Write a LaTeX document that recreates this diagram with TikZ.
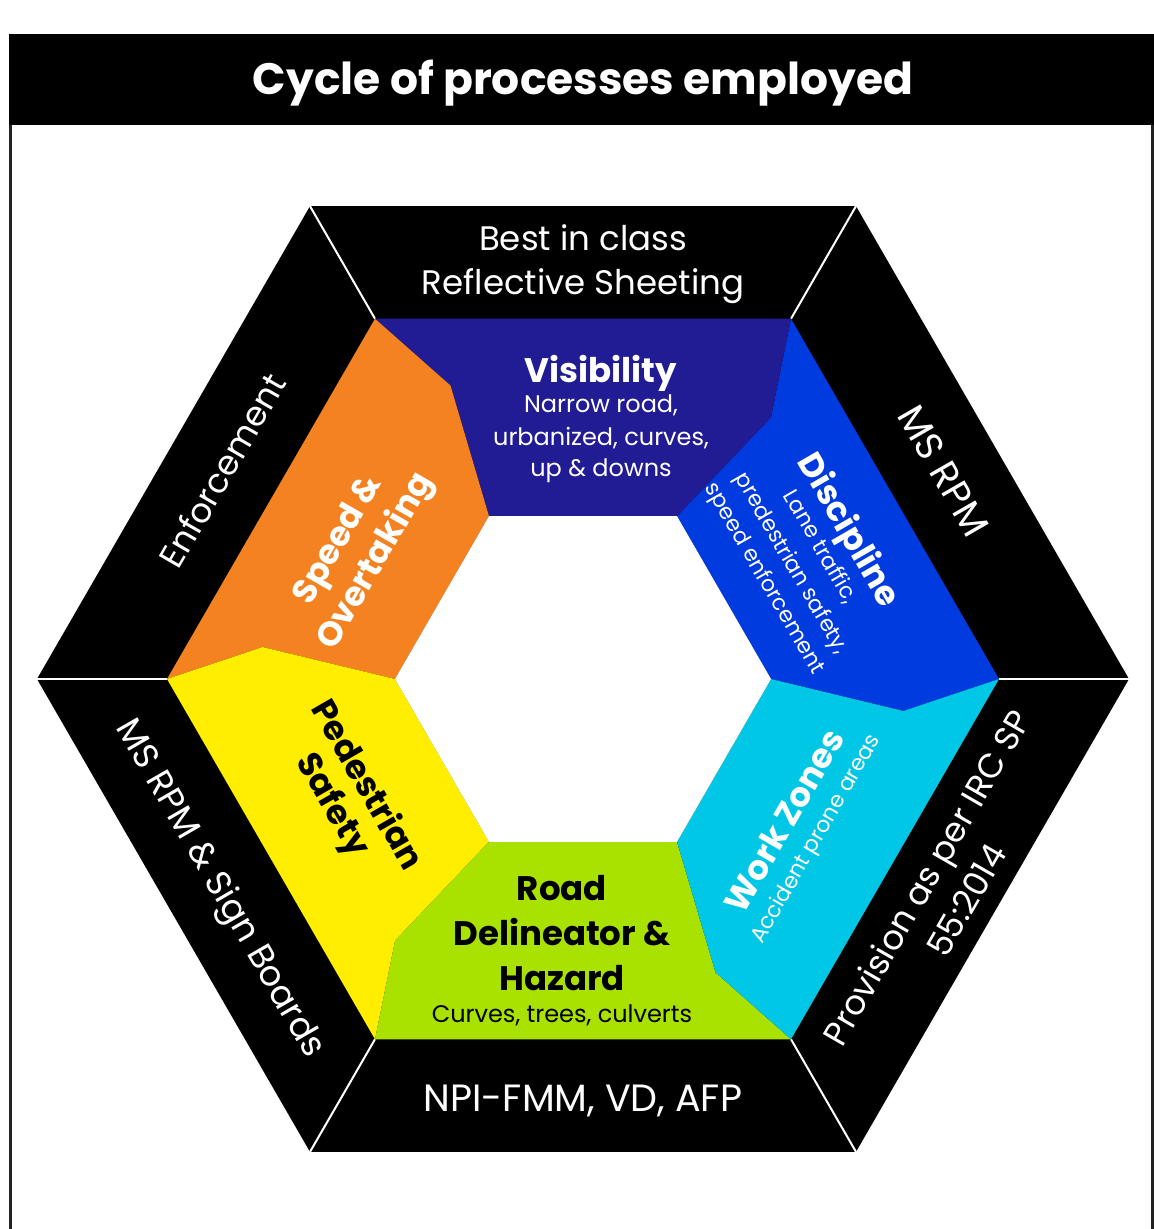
\documentclass[tikz,border=0pt]{standalone}
\usepackage{fontspec}
\setmainfont{Poppins}
\usepackage{tikz}

\definecolor{visblue}{HTML}{211C94}
\definecolor{discblue}{HTML}{003BE0}
\definecolor{zonecyan}{HTML}{00C7E5}
\definecolor{roadgreen}{HTML}{A9E100}
\definecolor{pedyellow}{HTML}{FFEE00}
\definecolor{speedorange}{HTML}{F58220}
\definecolor{framegray}{HTML}{222222}

\begin{document}
\begin{tikzpicture}[x=1pt,y=1pt,
  titlebar/.style={fill=black,minimum width=1145pt,minimum height=91pt,inner sep=0pt},
  titletxt/.style={text=white,anchor=base,inner sep=0pt,font=\bfseries\fontsize{44}{50}\selectfont},
  bandtxt/.style={text=white,anchor=base,inner sep=0pt,font=\fontsize{34}{40}\selectfont},
  capstxt/.style={bandtxt,font=\fontsize{38}{44}\selectfont},
  headtxt/.style={anchor=base,inner sep=0pt,font=\bfseries\fontsize{34}{40}\selectfont},
  subtxt/.style={anchor=base,inner sep=0pt,font=\fontsize{24}{28}\selectfont},
  notetxt/.style={anchor=base,inner sep=0pt,font=\fontsize{22}{26}\selectfont},
  sep/.style={white,line width=2pt}]
\useasboundingbox (-583,-550) rectangle (571,679);
\node[titlebar] (bar) at (-1.5,599.5) {};
\node[titletxt] (title) at (0,584) {Cycle of processes employed};
\draw[framegray,line width=2.5pt] (-572.5,554) -- (-572.5,-551);
\draw[framegray,line width=2.5pt] (569.5,554) -- (569.5,-551);

\coordinate (o0) at (0:546);   \coordinate (o1) at (60:546);  \coordinate (o2) at (120:546);
\coordinate (o3) at (180:546); \coordinate (o4) at (240:546); \coordinate (o5) at (300:546);
\coordinate (m0) at (0:416);   \coordinate (m1) at (60:416);  \coordinate (m2) at (120:416);
\coordinate (m3) at (180:416); \coordinate (m4) at (240:416); \coordinate (m5) at (300:416);
\coordinate (i0) at (0:188);   \coordinate (i1) at (60:188);  \coordinate (i2) at (120:188);
\coordinate (i3) at (180:188); \coordinate (i4) at (240:188); \coordinate (i5) at (300:188);
\coordinate (k0) at (-5.7:322);  \coordinate (k1) at (54.3:322);  \coordinate (k2) at (114.3:322);
\coordinate (k3) at (174.3:322); \coordinate (k4) at (234.3:322); \coordinate (k5) at (294.3:322);

\fill[black] (o0) -- (o1) -- (o2) -- (o3) -- (o4) -- (o5) -- cycle;
\draw[sep] (o0) -- (m0);
\draw[sep] (o1) -- (m1);
\draw[sep] (o2) -- (m2);
\draw[sep] (o3) -- (m3);
\draw[sep] (o4) -- (m4);
\draw[sep] (o5) -- (m5);

\fill[discblue] (m1) -- (k1) -- (i1) -- (i0) -- (k0) -- (m0) -- cycle;
\fill[visblue] (m2) -- (k2) -- (i2) -- (i1) -- (k1) -- (m1) -- cycle;
\fill[speedorange] (m3) -- (k3) -- (i3) -- (i2) -- (k2) -- (m2) -- cycle;
\fill[pedyellow] (m4) -- (k4) -- (i4) -- (i3) -- (k3) -- (m3) -- cycle;
\fill[roadgreen] (m5) -- (k5) -- (i5) -- (i4) -- (k4) -- (m4) -- cycle;
\fill[zonecyan] (m0) -- (k0) -- (i0) -- (i5) -- (k5) -- (m5) -- cycle;
\fill[white] (i0) -- (i1) -- (i2) -- (i3) -- (i4) -- (i5) -- cycle;

\node[bandtxt] (best) at (0,428) {Best in class};
\node[bandtxt] (sheet) at (0,384) {Reflective Sheeting};
\node[capstxt] (npi) at (0,-432) {NPI-FMM, VD, AFP};

\node[headtxt,text=white] (vis) at (18,296) {Visibility};
\node[subtxt,text=white] (vis1) at (18,266) {Narrow road,};
\node[subtxt,text=white] (vis2) at (18,233) {urbanized, curves,};
\node[subtxt,text=white] (vis3) at (18,202) {up \& downs};

\node[headtxt] (road) at (-21,-221) {Road};
\node[headtxt] (road1) at (-21,-266) {Delineator \&};
\node[headtxt] (road2) at (-21,-311) {Hazard};
\node[subtxt] (road3) at (-21,-343) {Curves, trees, culverts};

\begin{scope}[rotate=-60,transform shape]
  \node[capstxt] (msrpm) at (0,403) {MS RPM};
  \node[headtxt,text=white] (disc) at (4,294) {Discipline};
  \node[notetxt,text=white] (disc1) at (4,265) {Lane traffic,};
  \node[notetxt,text=white] (disc2) at (4,232) {predestrian safety,};
  \node[notetxt,text=white] (disc3) at (4,201) {speed enforcement};
  \node[bandtxt,font=\fontsize{35}{40}\selectfont] (signs) at (0,-429) {MS RPM \& Sign Boards};
  \node[headtxt] (ped) at (-16,-251) {Pedestrian};
  \node[headtxt] (ped1) at (-16,-290) {Safety};
\end{scope}

\begin{scope}[rotate=60,transform shape]
  \node[bandtxt] (enf) at (0,404) {Enforcement};
  \node[headtxt,text=white] (speed) at (-2,272) {Speed \&};
  \node[headtxt,text=white] (speed1) at (-2,229) {Overtaking};
  \node[bandtxt] (irc) at (0,-409) {Provision as per IRC SP};
  \node[bandtxt] (irc1) at (0,-455) {55:2014};
  \node[headtxt,text=white] (work) at (-22,-257) {Work Zones};
  \node[notetxt,text=white] (work1) at (-22,-288) {Accident prone areas};
\end{scope}
\end{tikzpicture}
\end{document}
